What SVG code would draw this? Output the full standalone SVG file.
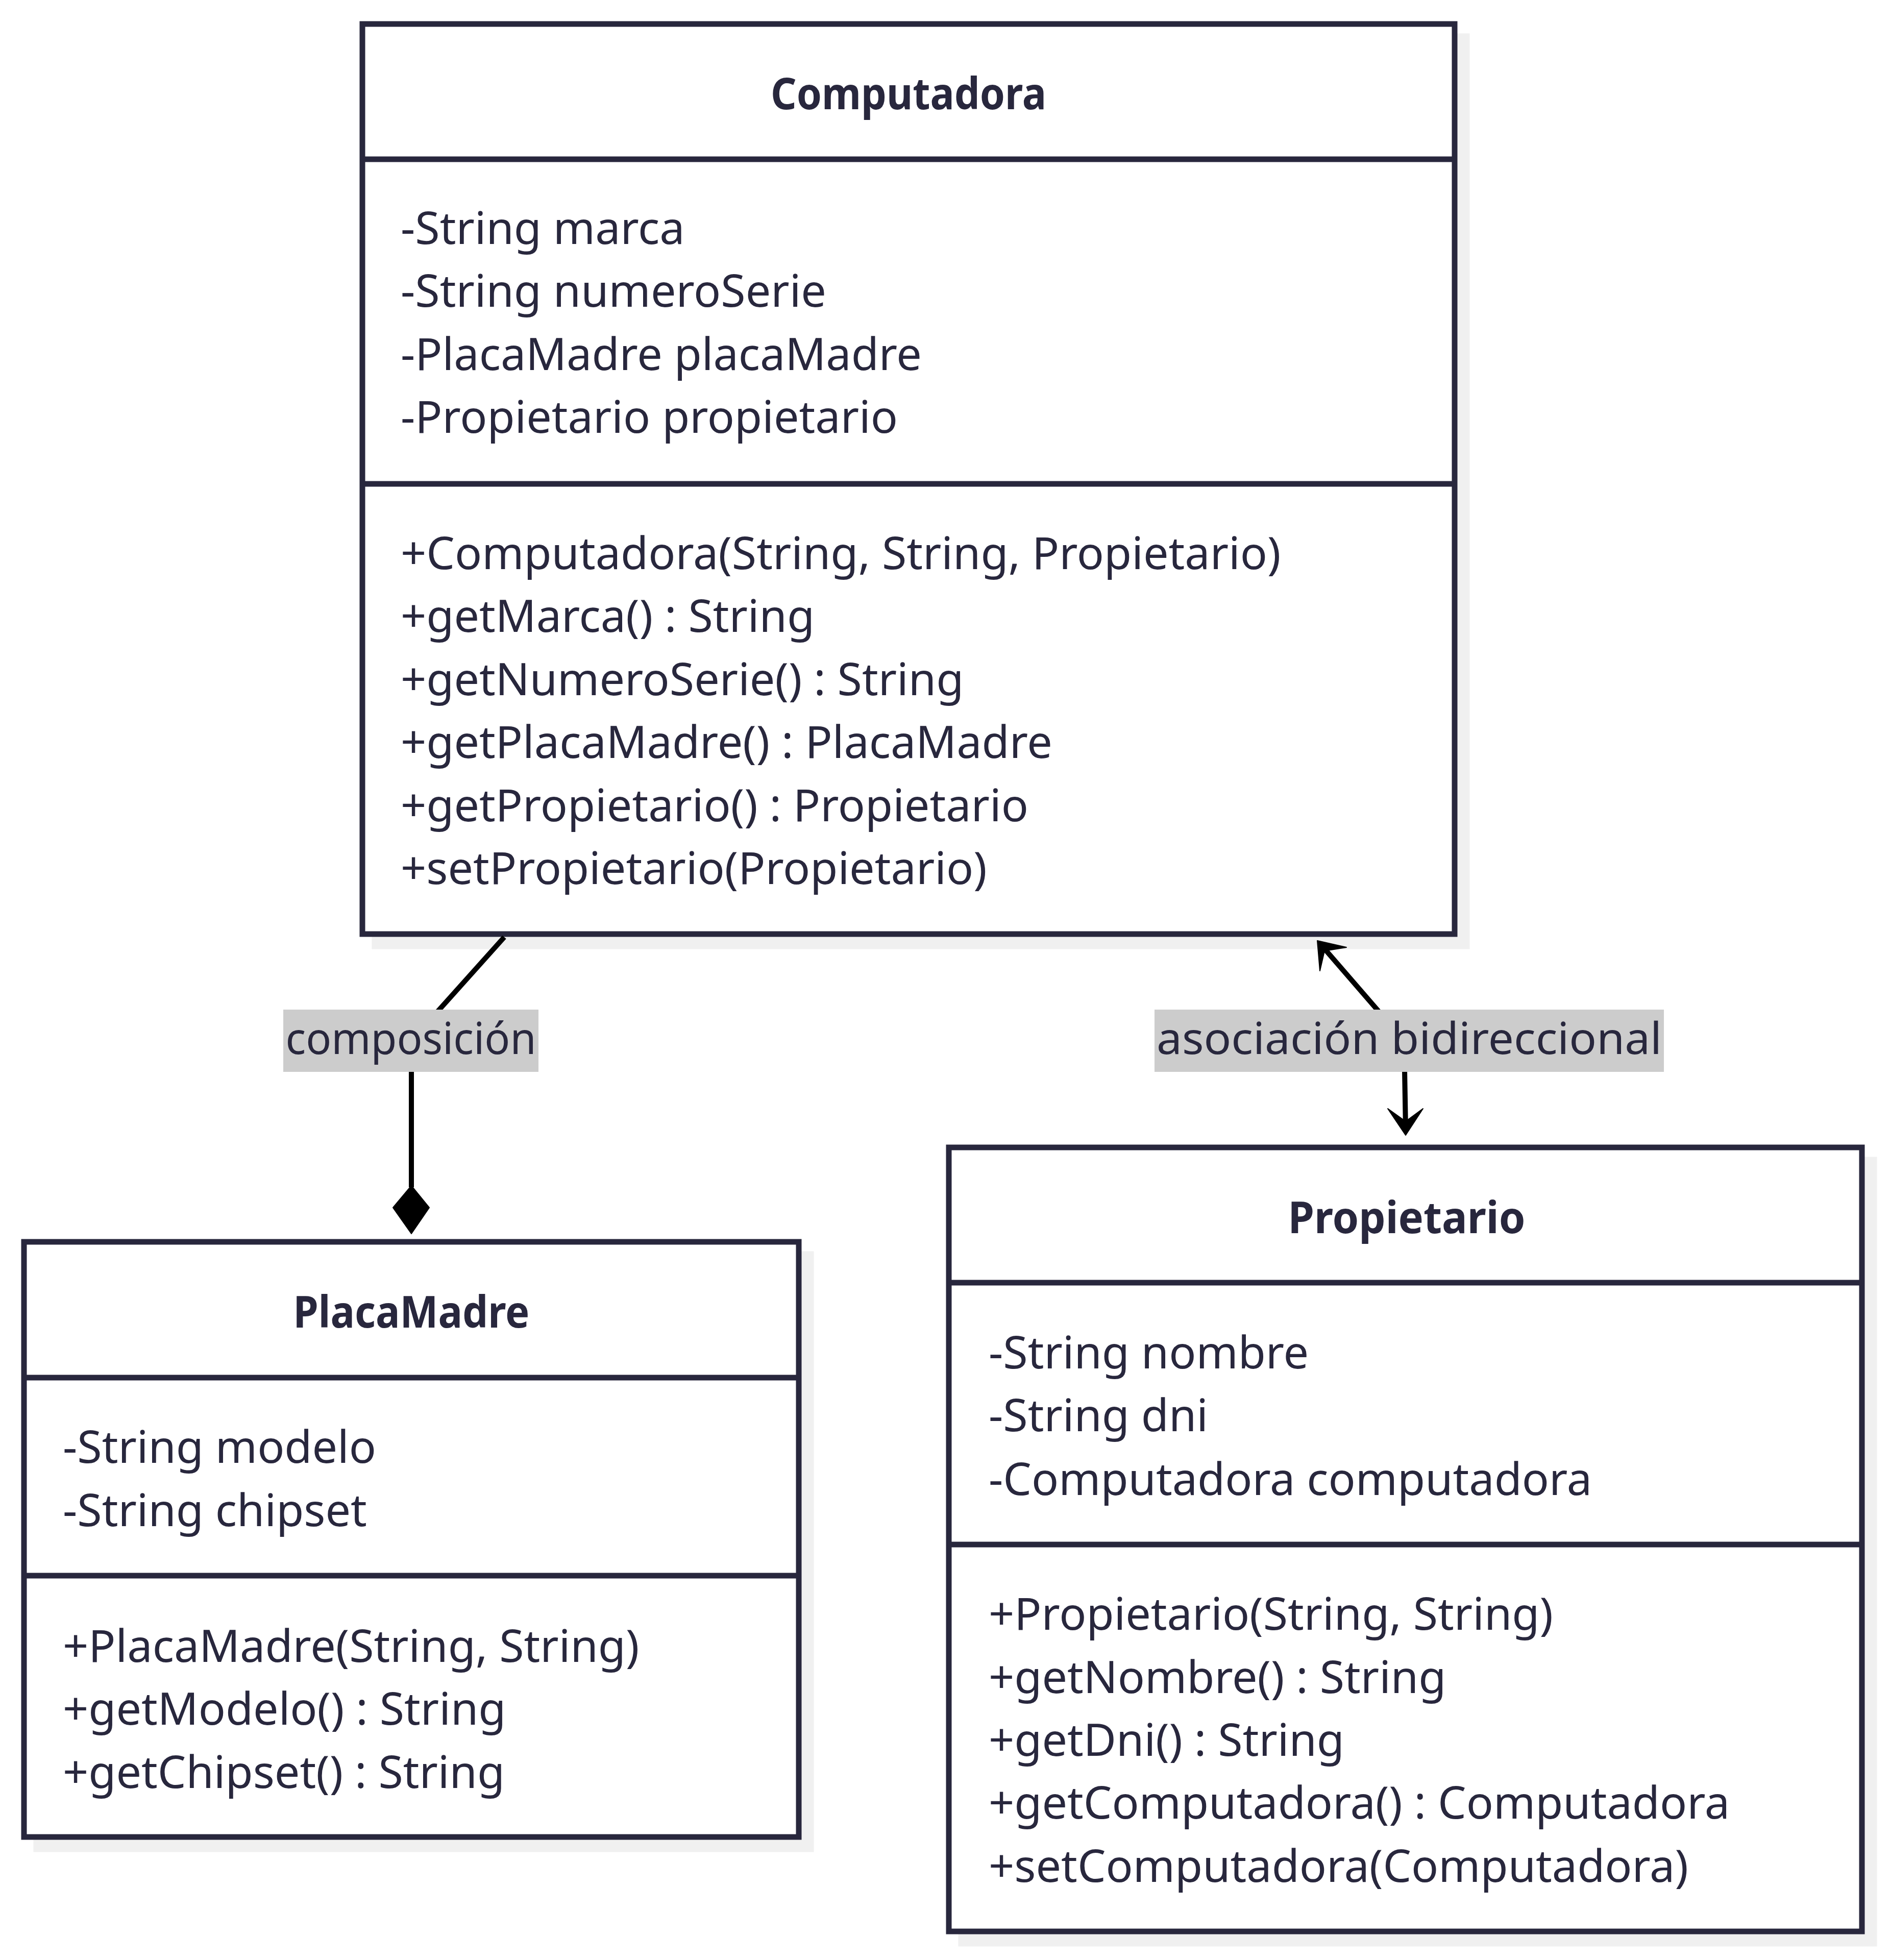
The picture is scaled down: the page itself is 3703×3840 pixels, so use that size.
<svg xmlns="http://www.w3.org/2000/svg" width="3703" height="3840" viewBox="0 0 3703 3840">
<style>
.bg{fill:#ffffff}
.shadow{fill:#f0f0f0;stroke:#f0f0f0;stroke-width:11}
.box{fill:#ffffff;stroke:#28273d;stroke-width:11}
.div{stroke:#28273d;stroke-width:11}
.t{font-family:"Noto Sans","Open Sans",sans-serif;font-size:88px;fill:#28273d}
.title{font-family:"Noto Sans","Open Sans",sans-serif;font-size:86px;font-weight:bold;fill:#28273d;text-anchor:middle}
.edge{fill:none;stroke:#000000;stroke-width:10}
.head{fill:#000000;stroke:#000000;stroke-width:2;stroke-linejoin:round}
.lbl{fill:#cccccc}
.lt{font-family:"Noto Sans","Open Sans",sans-serif;font-size:86px;fill:#28273d;text-anchor:middle}
</style>
<rect class="bg" x="0" y="0" width="3703" height="3840"/>
<g id="Computadora">
<rect class="shadow" x="734" y="71" width="2140" height="1783"/>
<rect class="box" x="710" y="47" width="2140" height="1783"/>
<line class="div" x1="710" y1="312" x2="2850" y2="312"/>
<line class="div" x1="710" y1="948" x2="2850" y2="948"/>
<text class="title" x="1780" y="214" textLength="540" lengthAdjust="spacingAndGlyphs">Computadora</text>
<text class="t" x="785" y="478">-String marca</text>
<text class="t" x="785" y="601">-String numeroSerie</text>
<text class="t" x="785" y="725">-PlacaMadre placaMadre</text>
<text class="t" x="785" y="848">-Propietario propietario</text>
<text class="t" x="785" y="1115">+Computadora(String, String, Propietario)</text>
<text class="t" x="785" y="1238">+getMarca() : String</text>
<text class="t" x="785" y="1362">+getNumeroSerie() : String</text>
<text class="t" x="785" y="1485">+getPlacaMadre() : PlacaMadre</text>
<text class="t" x="785" y="1609">+getPropietario() : Propietario</text>
<text class="t" x="785" y="1732">+setPropietario(Propietario)</text>
</g>
<g id="PlacaMadre">
<rect class="shadow" x="71" y="2457" width="1518" height="1166"/>
<rect class="box" x="47" y="2433" width="1518" height="1166"/>
<line class="div" x1="47" y1="2699" x2="1565" y2="2699"/>
<line class="div" x1="47" y1="3087" x2="1565" y2="3087"/>
<text class="title" x="806" y="2601" textLength="463" lengthAdjust="spacingAndGlyphs">PlacaMadre</text>
<text class="t" x="123" y="2866">-String modelo</text>
<text class="t" x="123" y="2990">-String chipset</text>
<text class="t" x="123" y="3256">+PlacaMadre(String, String)</text>
<text class="t" x="123" y="3379">+getModelo() : String</text>
<text class="t" x="123" y="3503">+getChipset() : String</text>
</g>
<g id="Propietario">
<rect class="shadow" x="1883" y="2272" width="1789" height="1536"/>
<rect class="box" x="1859" y="2248" width="1789" height="1536"/>
<line class="div" x1="1859" y1="2513" x2="3648" y2="2513"/>
<line class="div" x1="1859" y1="3026" x2="3648" y2="3026"/>
<text class="title" x="2756" y="2416" textLength="465" lengthAdjust="spacingAndGlyphs">Propietario</text>
<text class="t" x="1937" y="2681">-String nombre</text>
<text class="t" x="1937" y="2804">-String dni</text>
<text class="t" x="1937" y="2929">-Computadora computadora</text>
<text class="t" x="1937" y="3193">+Propietario(String, String)</text>
<text class="t" x="1937" y="3317">+getNombre() : String</text>
<text class="t" x="1937" y="3440">+getDni() : String</text>
<text class="t" x="1937" y="3563">+getComputadora() : Computadora</text>
<text class="t" x="1937" y="3687">+setComputadora(Computadora)</text>
</g>
<g id="connectors">
<path class="edge" d="M988,1836 L806,2039 L806,2326"/>
<path class="head" d="M806,2323 L841,2366 L806,2417 L770,2366 Z"/>
<path class="edge" d="M2590,1853 L2751,2039 L2754,2212"/>
<path class="head" d="M2581,1843 L2638,1856 L2595,1863 L2586,1902 Z"/>
<path class="head" d="M2754,2224 L2719,2172 L2754,2197 L2788,2172 Z"/>
</g>
<g id="label-composicion">
<rect class="lbl" x="555" y="1978" width="500" height="122"/>
<text class="lt" x="805" y="2065" textLength="491" lengthAdjust="spacingAndGlyphs">composición</text>
</g>
<g id="label-asociacion">
<rect class="lbl" x="2262" y="1978" width="998" height="122"/>
<text class="lt" x="2761" y="2065" textLength="990" lengthAdjust="spacingAndGlyphs">asociación bidireccional</text>
</g>
</svg>
